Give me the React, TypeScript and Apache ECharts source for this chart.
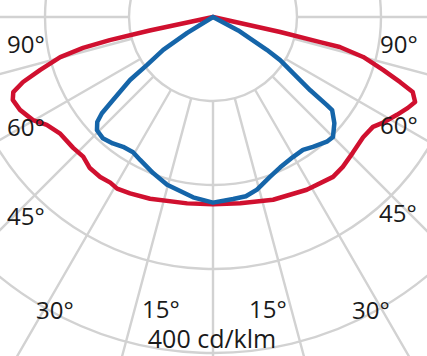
import React, { useEffect, useRef } from "react";
import * as echarts from "echarts";

// Angles in degrees from nadir (0° = straight down), values in cd/klm
const redLeftAngles = [90, 78, 77.4, 76.6, 75.3, 73, 71.1, 69.4, 67.5, 64.3, 60.2, 57, 52.8, 46.9, 42.9, 39.2, 35.2, 31.8, 29.2, 25.2, 19.1, 7.9, 0];
const redLeftValues = [0, 77, 126, 159, 188, 215, 239, 254, 258, 255, 247, 236, 229, 228, 227, 232, 233, 232, 234, 232, 229, 224, 223];
const redRightAngles = [0, 8.3, 18.2, 28.5, 36.9, 40.9, 45.8, 51.3, 55.5, 58, 62, 65, 67.2, 69.4, 70.8, 72.7, 75.1, 76.7, 76.8, 77.4, 90];
const redRightValues = [223, 224, 229, 234, 238, 236, 232, 229, 231, 238, 248, 256, 261, 254, 236, 212, 185, 155, 131, 82, 0];

const blueLeftAngles = [90, 58.4, 56.6, 54, 52.8, 50.3, 49.1, 47.8, 45.7, 42.3, 38.4, 34.7, 30.6, 27, 21, 15.3, 6.3, 0];
const blueLeftValues = [0, 36, 71, 97, 124, 155, 175, 186, 193, 195, 192, 188, 187, 191, 199, 207, 216, 221];
const blueRightAngles = [0, 6.3, 10.4, 14.3, 19.6, 24.1, 29.7, 34.1, 37.6, 42.4, 45, 48.8, 52, 52.3, 53, 55, 57.3, 58.6, 62, 90];
const blueRightValues = [221, 218, 217, 212, 202, 196, 192, 191, 195, 201, 202, 192, 180, 171, 145, 116, 95, 75, 34, 0];

const ringMin = 100;
const ringMax = 500;
const ringStep = 100;
const angleStep = 15;
const unitLabel = "400 cd/klm";

const angleLabels = [
  { text: "90°", x: 7, y: 43 },
  { text: "90°", x: 380, y: 43 },
  { text: "60°", x: 7, y: 126 },
  { text: "60°", x: 380, y: 124 },
  { text: "45°", x: 7, y: 215 },
  { text: "45°", x: 379, y: 212 },
  { text: "30°", x: 36, y: 309 },
  { text: "30°", x: 352, y: 309 },
  { text: "15°", x: 142, y: 308 },
  { text: "15°", x: 249, y: 308 },
];

function buildCurve(la: number[], lv: number[], ra: number[], rv: number[]) {
  const left = la.map((a, i) => [lv[i], a]);
  const right = ra.map((a, i) => [rv[i], 360 - a]);
  return [...left, ...right];
}

export default function App() {
  const ref = useRef<HTMLDivElement>(null);
  useEffect(() => {
    if (!ref.current) return;
    const chart = echarts.init(ref.current, null, { renderer: "svg" });
    const center = [213, 17];
    const gridColor = "#d2d2d2";
    const font = "Open Sans";
    chart.setOption({
      animation: false,
      backgroundColor: "#ffffff",
      polar: [
        { center, radius: [84, 420] },
        { center, radius: [0, 420] },
      ],
      radiusAxis: [
        {
          polarIndex: 0,
          type: "value",
          min: ringMin,
          max: ringMax,
          interval: ringStep,
          axisLine: { show: false },
          axisTick: { show: false },
          axisLabel: { show: false },
          splitLine: { show: true, lineStyle: { color: gridColor, width: 2.4 } },
        },
        {
          polarIndex: 1,
          type: "value",
          min: 0,
          max: ringMax,
          show: false,
          splitLine: { show: false },
        },
      ],
      angleAxis: [
        {
          polarIndex: 0,
          type: "value",
          min: 0,
          max: 360,
          interval: angleStep,
          startAngle: 270,
          clockwise: true,
          axisLine: { show: false },
          axisTick: { show: false },
          axisLabel: { show: false },
          splitLine: { show: true, lineStyle: { color: gridColor, width: 2.4 } },
        },
        {
          polarIndex: 1,
          type: "value",
          min: 0,
          max: 360,
          startAngle: 270,
          clockwise: true,
          show: false,
          splitLine: { show: false },
        },
      ],
      series: [
        {
          type: "line",
          coordinateSystem: "polar",
          polarIndex: 1,
          data: buildCurve(redLeftAngles, redLeftValues, redRightAngles, redRightValues),
          showSymbol: false,
          symbol: "none",
          lineStyle: { color: "#d0102f", width: 4.5, join: "round", cap: "round" },
          z: 3,
        },
        {
          type: "line",
          coordinateSystem: "polar",
          polarIndex: 1,
          data: buildCurve(blueLeftAngles, blueLeftValues, blueRightAngles, blueRightValues),
          showSymbol: false,
          symbol: "none",
          lineStyle: { color: "#1565a9", width: 4.5, join: "round", cap: "round" },
          z: 4,
        },
      ],
      graphic: [
        ...angleLabels.map((l) => ({
          type: "text",
          x: l.x,
          y: l.y,
          z: 10,
          style: {
            text: l.text,
            fontSize: 24,
            fontFamily: font,
            fill: "#1a1a1a",
            align: "left",
            verticalAlign: "middle",
          },
        })),
        {
          type: "text",
          x: 212,
          y: 338,
          z: 10,
          style: {
            text: unitLabel,
            fontSize: 25,
            fontFamily: font,
            fill: "#1a1a1a",
            align: "center",
            verticalAlign: "middle",
          },
        },
      ],
    });
    return () => chart.dispose();
  }, []);
  return (
    <div
      ref={ref}
      style={{ position: "fixed", left: 0, top: 0, width: 427, height: 356 }}
    />
  );
}
